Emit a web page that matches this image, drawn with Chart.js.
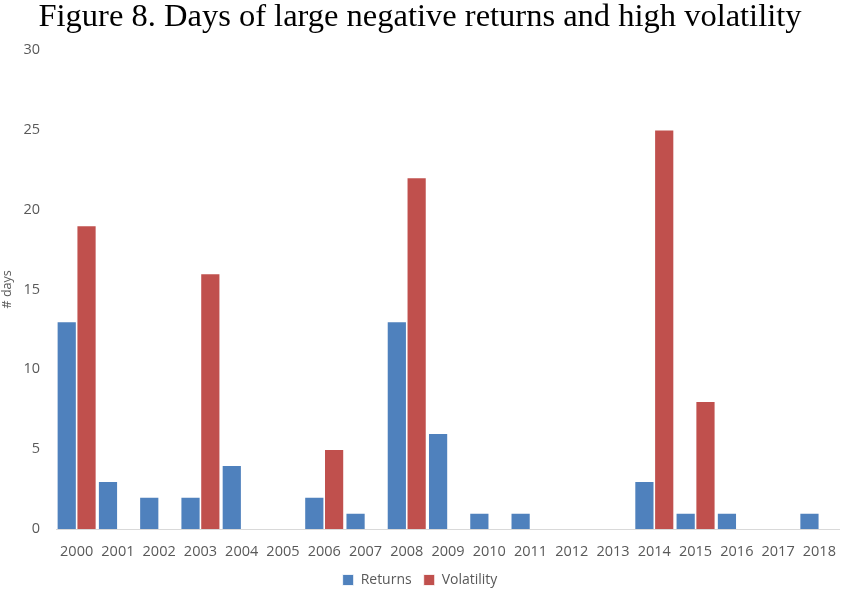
<!DOCTYPE html>
<html>
<head>
<meta charset="utf-8">
<script src="https://cdn.jsdelivr.net/npm/chart.js@4.4.1/dist/chart.umd.min.js"></script>
<style>
  html, body { margin: 0; padding: 0; background: #fff; }
  #wrap { width: 842px; height: 589px; }
</style>
</head>
<body>
<div id="wrap"><canvas id="chart" width="842" height="589"></canvas></div>
<script>
const years = ["2000", "2001", "2002", "2003", "2004", "2005", "2006", "2007", "2008", "2009",
  "2010", "2011", "2012", "2013", "2014", "2015", "2016", "2017", "2018"];
const returnsDays = [13, 3, 2, 2, 4, 0, 2, 1, 13, 6, 1, 1, 0, 0, 3, 1, 1, 0, 1];
const volatilityDays = [19, 0, 0, 16, 0, 0, 5, 0, 22, 0, 0, 0, 0, 0, 25, 8, 0, 0, 0];

const tickFont = { family: "'Open Sans', 'Noto Sans', sans-serif", size: 14.5 };
const grey = "#595959";

const ctx = document.getElementById("chart").getContext("2d");

new Chart(ctx, {
  type: "bar",
  data: {
    labels: years,
    datasets: [
      {
        label: "Returns",
        data: returnsDays,
        backgroundColor: "#4F81BD",
        borderColor: "#ffffff",
        borderWidth: 0.8,
      },
      {
        label: "Volatility",
        data: volatilityDays,
        backgroundColor: "#C0504D",
        borderColor: "#ffffff",
        borderWidth: 0.8,
      },
    ],
  },
  options: {
    responsive: false,
    animation: false,
    layout: { padding: { left: 0, right: 2, top: 0, bottom: -8 } },
    datasets: {
      bar: { categoryPercentage: 0.96, barPercentage: 1.0 },
    },
    plugins: {
      title: {
        display: true,
        text: "Figure 8. Days of large negative returns and high volatility",
        color: "#000000",
        font: { family: "'Liberation Serif', 'Times New Roman', serif", size: 32.5, weight: "normal", lineHeight: 1.1 },
        padding: { top: 0, bottom: 14 },
      },
      legend: {
        position: "bottom",
        labels: {
          color: grey,
          font: { family: "'Open Sans', 'Noto Sans', sans-serif", size: 14 },
          boxWidth: 11,
          boxHeight: 11,
          padding: 12,
        },
      },
      tooltip: { enabled: false },
    },
    scales: {
      x: {
        grid: { display: false },
        border: { display: true, color: "#d9d9d9" },
        ticks: { color: grey, font: tickFont, padding: 6, maxRotation: 0, autoSkip: false },
        afterFit: function (scale) {
          scale.height = 32;
        },
      },
      y: {
        min: 0,
        max: 30,
        grid: { display: false },
        border: { display: false },
        ticks: { stepSize: 5, color: grey, font: tickFont, padding: 8 },
        title: { display: true, text: "# days", color: grey, font: { family: "'Open Sans', sans-serif", size: 12.5 }, padding: { top: 0, bottom: 0 } },
        afterFit: function (scale) {
          scale.width = 56;
        },
      },
    },
  },
});
</script>
</body>
</html>
